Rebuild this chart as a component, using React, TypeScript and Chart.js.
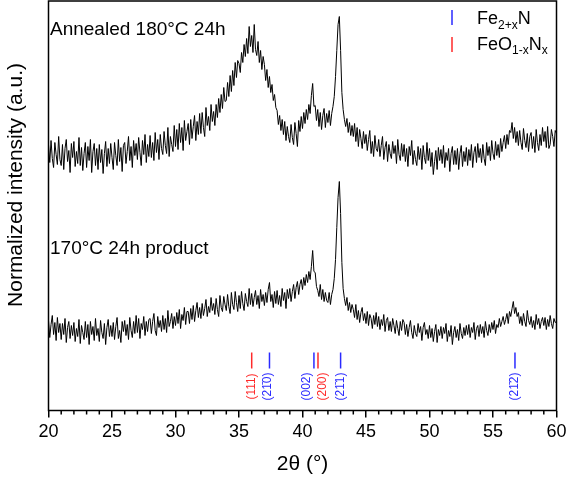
import React, { useEffect, useRef } from "react";
import { Chart, registerables } from "chart.js";

Chart.register(...registerables);

// 2θ grid of the scan (degrees)
const twoThetaStart = 20;
const twoThetaStep = 0.1;

// Annealed 180°C 24h (upper trace, offset), one row per degree (x.0 .. x.9)
const annealed180 = [
  266, 248, 270, 252, 243, 268, 256, 246, 274, 251,
  245, 266, 241, 262, 271, 249, 260, 238, 267, 253,
  269, 244, 259, 247, 273, 245, 263, 240, 257, 268,
  243, 264, 250, 271, 238, 259, 267, 245, 262, 241,
  266, 248, 261, 237, 257, 269, 244, 262, 247, 267,
  253, 241, 268, 255, 245, 271, 249, 263, 239, 265,
  268, 247, 259, 274, 250, 264, 243, 270, 255, 267,
  251, 273, 258, 245, 270, 256, 276, 248, 266, 254,
  275, 253, 268, 250, 278, 258, 271, 251, 276, 262,
  256, 279, 265, 257, 283, 254, 274, 266, 259, 285,
  264, 281, 261, 287, 268, 283, 260, 290, 270, 279,
  287, 266, 291, 272, 284, 295, 270, 289, 276, 297,
  277, 298, 283, 274, 303, 285, 294, 280, 306, 289,
  299, 285, 306, 293, 312, 298, 316, 302, 323, 309,
  310, 328, 314, 335, 319, 340, 325, 348, 333, 350,
  347, 338, 358, 348, 366, 354, 372, 357, 384, 364,
  375, 358, 386, 361, 355, 369, 348, 360, 341, 354,
  346, 330, 341, 323, 334, 318, 326, 310, 316, 303,
  300, 286, 295, 280, 291, 276, 289, 270, 284, 274,
  268, 286, 273, 266, 288, 277, 264, 290, 279, 294,
  282, 298, 287, 301, 291, 306, 297, 315, 327, 304,
  305, 290, 301, 284, 298, 281, 295, 302, 283, 297,
  288, 300, 285, 297, 304, 314, 334, 360, 386, 394,
  360, 318, 301, 291, 284, 292, 278, 288, 275, 285,
  274, 287, 269, 283, 264, 281, 272, 262, 279, 267,
  276, 260, 271, 280, 257, 269, 254, 275, 262, 259,
  271, 254, 265, 274, 251, 263, 269, 249, 266, 257,
  252, 269, 257, 265, 247, 271, 256, 250, 267, 254,
  266, 249, 262, 244, 264, 255, 270, 246, 260, 251,
  245, 264, 251, 262, 241, 265, 253, 247, 268, 250,
  262, 244, 258, 236, 249, 260, 241, 263, 250, 261,
  247, 265, 243, 258, 250, 262, 239, 257, 264, 246,
  260, 246, 262, 241, 257, 265, 244, 259, 249, 263,
  245, 261, 250, 266, 243, 258, 264, 248, 267, 253,
  262, 248, 266, 252, 245, 268, 255, 264, 250, 270,
  257, 251, 269, 255, 266, 253, 272, 259, 268, 275,
  262, 276, 266, 280, 278, 288, 272, 283, 268, 279,
  265, 280, 268, 261, 282, 270, 263, 277, 259, 274,
  278, 262, 274, 258, 281, 268, 260, 276, 265, 283,
  269, 279, 263, 284, 262, 266, 281, 274, 264, 280,
  277,
];

// 170°C 24h product (lower trace)
const product170 = [
  90, 73, 86, 95, 76, 88, 70, 93, 78, 87,
  71, 87, 76, 92, 68, 83, 89, 72, 85, 75,
  88, 69, 82, 74, 91, 67, 85, 78, 71, 89,
  73, 86, 66, 89, 76, 84, 70, 92, 75, 82,
  69, 90, 78, 72, 87, 66, 83, 91, 74, 85,
  74, 88, 71, 84, 93, 72, 80, 68, 89, 79,
  90, 75, 86, 71, 93, 80, 73, 89, 77, 95,
  78, 92, 72, 87, 81, 94, 75, 89, 79, 91,
  92, 77, 89, 97, 80, 75, 94, 83, 90, 79,
  95, 81, 92, 78, 100, 84, 89, 97, 82, 94,
  85, 98, 87, 101, 82, 96, 90, 103, 86, 99,
  99, 87, 102, 91, 105, 89, 100, 108, 93, 103,
  92, 107, 95, 102, 111, 94, 104, 98, 113, 100,
  107, 96, 112, 101, 94, 115, 103, 99, 114, 106,
  100, 116, 104, 97, 118, 106, 101, 119, 108, 99,
  115, 102, 119, 107, 100, 117, 109, 104, 122, 106,
  117, 104, 113, 120, 106, 115, 102, 121, 109, 116,
  105, 118, 108, 121, 128, 109, 116, 103, 119, 107,
  120, 106, 115, 104, 122, 110, 118, 102, 121, 112,
  122, 109, 119, 126, 112, 123, 129, 116, 126, 131,
  121, 133, 125, 136, 128, 139, 131, 144, 160, 139,
  138, 124, 120, 114, 126, 111, 121, 109, 118, 110,
  108, 118, 106, 116, 121, 132, 151, 183, 213, 229,
  197, 148, 122, 112, 105, 113, 100, 108, 98, 106,
  101, 93, 106, 91, 100, 88, 98, 103, 90, 97,
  87, 99, 85, 96, 92, 82, 95, 86, 98, 84,
  94, 81, 91, 85, 96, 79, 90, 93, 80, 89,
  79, 92, 85, 77, 90, 82, 75, 89, 80, 91,
  88, 76, 86, 74, 83, 90, 78, 72, 85, 77,
  74, 87, 78, 84, 70, 83, 88, 76, 81, 72,
  85, 73, 82, 69, 79, 86, 68, 81, 75, 84,
  72, 83, 77, 87, 69, 80, 74, 85, 66, 78,
  84, 73, 81, 70, 87, 77, 72, 83, 75, 85,
  76, 86, 73, 83, 78, 88, 71, 82, 85, 74,
  86, 77, 84, 73, 89, 80, 75, 86, 78, 88,
  81, 90, 77, 86, 83, 92, 84, 89, 94, 86,
  91, 97, 87, 99, 94, 102, 109, 97, 103, 94,
  98, 87, 94, 85, 97, 89, 84, 100, 90, 86,
  94, 83, 90, 81, 96, 86, 92, 82, 89, 93,
  85, 93, 81, 91, 84, 95, 87, 82, 92, 88,
  89,
];

const xMin = 20;
const xMax = 60;
const majorTickStep = 5;
const minorTickStep = 1;

// Reference reflections (2θ positions, hkl labels, phase)
const reflectionPositions = [36.0, 37.4, 40.9, 41.22, 43.0, 56.73];
const reflectionLabels = ["(111)", "(21\u03040)", "(002)", "(200)", "(21\u03041)", "(21\u03042)"];
const reflectionPhase = ["FeO1-xNx", "Fe2+xN", "Fe2+xN", "FeO1-xNx", "Fe2+xN", "Fe2+xN"];

const sampleLabels = ["Annealed 180\u00B0C 24h", "170\u00B0C 24h product"];
const xAxisTitle = "2\u03B8 (\u00B0)";
const yAxisTitle = "Normalized intensity (a.u.)";

const FONT = '"Liberation Sans", Arial, Helvetica, sans-serif';
const BLUE = "#2a2aff";
const RED = "#ff2a2a";
const phaseColor: Record<string, string> = { "Fe2+xN": BLUE, "FeO1-xNx": RED };

const toPoints = (vals: number[]) =>
  vals.map((v, i) => ({ x: +(twoThetaStart + i * twoThetaStep).toFixed(2), y: v }));

export default function App() {
  const ref = useRef<HTMLCanvasElement | null>(null);

  useEffect(() => {
    if (!ref.current) return;

    const decor = {
      id: "decor",
      afterDraw(chart: any) {
        const { ctx, chartArea, scales } = chart;
        const { left, right, top, bottom } = chartArea;
        const x = scales.x;
        const y = scales.y;
        ctx.save();

        // frame
        ctx.strokeStyle = "#000";
        ctx.lineWidth = 1.5;
        ctx.strokeRect(left, top, right - left, bottom - top);

        // minor ticks (short) from the scale's own ticks
        ctx.lineWidth = 1.5;
        x.ticks.forEach((t: any) => {
          if (Math.round(t.value) % majorTickStep !== 0) {
            const px = x.getPixelForValue(t.value);
            ctx.beginPath();
            ctx.moveTo(px, bottom);
            ctx.lineTo(px, bottom + 4);
            ctx.stroke();
          }
        });

        // axis titles
        ctx.fillStyle = "#000";
        ctx.font = `21px ${FONT}`;
        ctx.textAlign = "center";
        ctx.textBaseline = "middle";
        ctx.fillText(xAxisTitle, (left + right) / 2, 464);
        ctx.save();
        ctx.translate(16, 185);
        ctx.rotate(-Math.PI / 2);
        ctx.fillText(yAxisTitle, 0, 0);
        ctx.restore();

        // sample labels
        ctx.font = `19px ${FONT}`;
        ctx.textAlign = "left";
        ctx.textBaseline = "alphabetic";
        ctx.fillText(sampleLabels[0], 50, 34.5);
        ctx.fillText(sampleLabels[1], 50, 253.5);

        // reflection markers
        const nudge = [0, -2, -7, 5, 0, 0];
        reflectionPositions.forEach((pos, i) => {
          const px = x.getPixelForValue(pos);
          const col = phaseColor[reflectionPhase[i]];
          ctx.strokeStyle = col;
          ctx.lineWidth = 1.5;
          ctx.beginPath();
          ctx.moveTo(px, y.getPixelForValue(58));
          ctx.lineTo(px, y.getPixelForValue(42));
          ctx.stroke();
          ctx.save();
          ctx.translate(px + nudge[i], y.getPixelForValue(24));
          ctx.rotate(-Math.PI / 2);
          ctx.fillStyle = col;
          ctx.font = `12px ${FONT}`;
          ctx.textAlign = "center";
          ctx.textBaseline = "middle";
          ctx.fillText(reflectionLabels[i], 0, 0);
          ctx.restore();
        });

        // legend
        const drawParts = (parts: [string, boolean][], x0: number, base: number) => {
          let cx = x0;
          parts.forEach(([txt, sub]) => {
            ctx.font = sub ? `12px ${FONT}` : `18px ${FONT}`;
            ctx.fillText(txt, cx, sub ? base + 4.5 : base);
            cx += ctx.measureText(txt).width;
          });
        };
        ctx.fillStyle = "#000";
        ctx.textAlign = "left";
        ctx.textBaseline = "alphabetic";
        ctx.lineWidth = 1.5;
        ctx.strokeStyle = BLUE;
        ctx.beginPath();
        ctx.moveTo(452, 10);
        ctx.lineTo(452, 25);
        ctx.stroke();
        drawParts([["Fe", false], ["2+x", true], ["N", false]], 477, 24);
        ctx.strokeStyle = RED;
        ctx.beginPath();
        ctx.moveTo(452, 37);
        ctx.lineTo(452, 52);
        ctx.stroke();
        drawParts([["FeO", false], ["1-x", true], ["N", false], ["x", true]], 477, 49.5);

        ctx.restore();
      },
    };

    const chart = new Chart(ref.current, {
      type: "line",
      data: {
        datasets: [
          {
            label: sampleLabels[0],
            data: toPoints(annealed180),
            borderColor: "#000",
            borderWidth: 1,
            pointRadius: 0,
            tension: 0,
          },
          {
            label: sampleLabels[1],
            data: toPoints(product170),
            borderColor: "#000",
            borderWidth: 1,
            pointRadius: 0,
            tension: 0,
          },
        ],
      },
      options: {
        responsive: false,
        animation: false,
        devicePixelRatio: 1,
        layout: { padding: { left: 48.5, right: 9.5, top: 1, bottom: 0 } },
        plugins: { legend: { display: false }, tooltip: { enabled: false } },
        scales: {
          x: {
            type: "linear",
            min: xMin,
            max: xMax,
            afterFit(scale: any) {
              scale.height = 66.5;
              scale.paddingLeft = 0;
              scale.paddingRight = 0;
            },
            ticks: {
              stepSize: minorTickStep,
              autoSkip: false,
              maxRotation: 0,
              padding: 4,
              color: "#000",
              font: { family: FONT, size: 18 },
              callback: (v: any) => (Math.round(v) % majorTickStep === 0 ? String(Math.round(v)) : ""),
            },
            grid: {
              drawOnChartArea: false,
              drawTicks: true,
              tickLength: 7,
              lineWidth: 1.5,
              tickColor: (c: any) =>
                c.tick && Math.round(c.tick.value) % majorTickStep === 0 ? "#000" : "rgba(0,0,0,0)",
            },
            border: { display: false },
          },
          y: { display: false, min: 0, max: 409.5 },
        },
      },
      plugins: [decor],
    });

    return () => chart.destroy();
  }, []);

  return (
    <div style={{ position: "fixed", left: 0, top: 0, width: 566, height: 477, background: "#fff" }}>
      <canvas ref={ref} width={566} height={477} style={{ width: 566, height: 477 }} />
    </div>
  );
}
